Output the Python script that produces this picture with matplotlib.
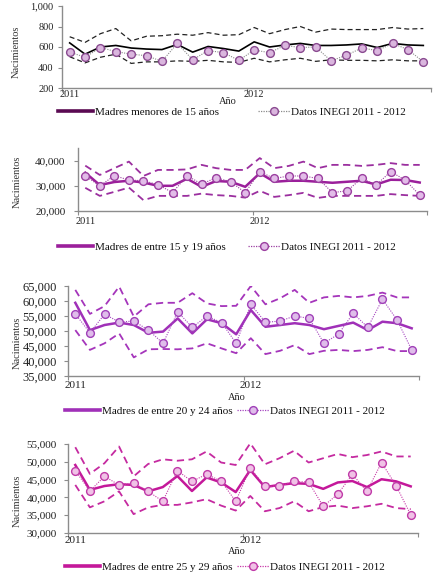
import numpy as np
import matplotlib
matplotlib.use('Agg')
import matplotlib.pyplot as plt
from matplotlib.lines import Line2D
from matplotlib.ticker import FixedLocator, FuncFormatter

plt.rcParams['font.family'] = ['Liberation Serif', 'DejaVu Serif']

# ---------------- data ----------------
months = np.arange(24) + 0.5          # Jan 2011 .. Dec 2012 (mid-month)
year_labels = ['2011', '2012']
year_pos = [0.5, 12.5]
year_edges = [0, 12, 24]
data_label = 'Datos INEGI 2011 - 2012'

p1_label = 'Madres menores de 15 años'
p1_model = [640, 530, 600, 615, 590, 580, 575, 625, 550, 605, 585, 560,
            650, 600, 620, 635, 615, 615, 620, 630, 595, 635, 620, 615]
p1_upper = [700, 645, 730, 780, 660, 705, 710, 725, 715, 740, 715, 720,
            790, 730, 770, 800, 745, 775, 770, 770, 770, 790, 775, 780]
p1_lower = [505, 445, 500, 530, 440, 455, 455, 465, 460, 470, 455, 450,
            490, 455, 475, 490, 460, 475, 470, 470, 465, 475, 465, 465]
p1_data = [550, 500, 595, 555, 530, 515, 460, 635, 475, 565, 545, 470,
           570, 545, 615, 595, 600, 465, 520, 590, 565, 635, 575, 455]

p2_label = 'Madres de entre 15 y 19 años'
p2_model = [35200, 30300, 31500, 32000, 31300, 30000, 30000, 32800, 29600, 31900, 31600, 29600,
            35000, 31600, 32000, 32000, 31600, 31200, 31600, 32000, 30500, 32400, 32300, 31300]
p2_upper = [38000, 34300, 37000, 39600, 33900, 36300, 36300, 36500, 38300, 37000, 36300, 36300,
            41000, 37000, 37900, 39600, 37000, 38300, 38300, 37900, 38300, 39000, 38300, 38300]
p2_lower = [29200, 26000, 27600, 29300, 24300, 26000, 26000, 26000, 26900, 26300, 26000, 25300,
            28000, 25600, 26300, 27200, 25200, 26000, 26000, 26000, 26000, 26700, 26300, 26000]
p2_data = [33900, 30000, 34000, 32300, 32000, 30500, 27300, 34000, 30700, 33200, 31600, 27300,
           35600, 32900, 33900, 33900, 32900, 27300, 28000, 32900, 30300, 35600, 32300, 26300]

p3_label = 'Madres de entre 20 y 24 años'
p3_model = [59400, 50300, 52000, 52800, 52000, 49400, 49800, 54200, 49200, 53900, 52600, 48900,
            57000, 51400, 52000, 52600, 52000, 50600, 51700, 52800, 50300, 53100, 52600, 50900]
p3_upper = [63700, 55700, 58300, 64800, 54800, 58900, 59400, 59400, 62600, 59200, 58300, 58400,
            65000, 58900, 60900, 63700, 59400, 61200, 61700, 61200, 61700, 62800, 61200, 61200]
p3_lower = [50300, 43700, 45900, 49200, 41200, 43900, 44000, 43900, 44200, 45900, 44200, 42600,
            47600, 42300, 43400, 45300, 42300, 43400, 43700, 43300, 43700, 44600, 43300, 43300]
p3_data = [55700, 49400, 55600, 53000, 53300, 50300, 45900, 56400, 51200, 55000, 52800, 45900,
           58900, 52900, 53300, 55000, 54200, 45900, 49000, 55900, 51200, 60600, 53700, 43700]

p4_label = 'Madres de entre 25 y 29 años'
p4_model = [49100, 42100, 43200, 43700, 43500, 41700, 42900, 46000, 41800, 45600, 44200, 41500,
            47700, 42900, 43500, 44000, 43800, 42400, 44200, 44600, 42900, 45100, 44500, 43100]
p4_upper = [54100, 46600, 49600, 54300, 45900, 49400, 50700, 50300, 50700, 52900, 49800, 49100,
            55200, 49300, 51000, 53100, 49800, 51000, 52200, 51300, 51900, 52900, 51500, 51500]
p4_lower = [43500, 37200, 38900, 41700, 35300, 37200, 37900, 37900, 38600, 39500, 37700, 36300,
            40400, 36100, 37000, 38900, 36100, 37300, 37700, 37000, 37500, 38200, 37000, 36700]
p4_data = [47500, 41800, 45900, 43500, 44000, 41700, 38900, 47500, 44500, 46500, 44600, 38900,
           48200, 43100, 43200, 44500, 44300, 37500, 40900, 46500, 41700, 49800, 43300, 35100]

# ---------------- layout / style ----------------
W, H = 441, 583
fig = plt.figure(figsize=(W / 100, H / 100), dpi=100)


def rect(left, right, top, bottom):
    return [left / W, 1 - bottom / H, (right - left) / W, (bottom - top) / H]


panels = [
    dict(label=p1_label, model=p1_model, upper=p1_upper, lower=p1_lower, data=p1_data,
         box=(62, 431, 6, 88), ylim=(200, 1000), yticks=np.arange(200, 1001, 200),
         main='#000000', band='#222222', dline='#8a8a8a', mfc='#dab6de', mec='#8a4a90',
         leg_color='#5a0a52', mlw=1.2, blw=0.9, tfs=7.5, xfs=7.5, ypad=3, xpad=1.5,
         ylab=(16, 52), ano=(228, 101), leg_y=112, leg_x=(58, 258)),
    dict(label=p2_label, model=p2_model, upper=p2_upper, lower=p2_lower, data=p2_data,
         box=(78, 427, 148, 211), ylim=(20000, 45000), yticks=[20000, 30000, 40000],
         main='#9b1f9b', band='#9b2f9f', dline='#9b3fa0', mfc='#e2bce8', mec='#9b3fa0',
         leg_color='#9b1f9b', mlw=1.8, blw=1.3, tfs=8, xfs=7.5, ypad=6, xpad=4,
         ylab=(17, 182), ano=None, leg_y=247, leg_x=(58, 248)),
    dict(label=p3_label, model=p3_model, upper=p3_upper, lower=p3_lower, data=p3_data,
         box=(68, 419, 286, 376), ylim=(35000, 65000), yticks=np.arange(35000, 65001, 5000),
         main='#a030b8', band='#a535bb', dline='#a545c0', mfc='#dfbdea', mec='#a040b8',
         leg_color='#a030b8', mlw=1.8, blw=1.3, tfs=9, xfs=8, ypad=5, xpad=3.5,
         ylab=(17, 343), ano=(237, 397), leg_y=411, leg_x=(65, 237)),
    dict(label=p4_label, model=p4_model, upper=p4_upper, lower=p4_lower, data=p4_data,
         box=(68, 418, 444, 533), ylim=(30000, 55000), yticks=np.arange(30000, 55001, 5000),
         main='#c4189a', band='#c52aa0', dline='#c83aa8', mfc='#f0c2e6', mec='#c03aa8',
         leg_color='#c4189a', mlw=1.8, blw=1.3, tfs=8, xfs=8, ypad=5, xpad=2.5,
         ylab=(17, 501), ano=(237, 552), leg_y=567, leg_x=(65, 237)),
]

spine_col = '#8c8c8c'
comma = FuncFormatter(lambda v, p: f'{int(round(v)):,}')
MS = 5.6

for P in panels:
    ax = fig.add_axes(rect(*P['box']))
    ax.plot(months, P['upper'], ls=(0, (4, 2.5)), color=P['band'], lw=P['blw'])
    ax.plot(months, P['lower'], ls=(0, (4, 2.5)), color=P['band'], lw=P['blw'])
    ax.plot(months, P['model'], color=P['main'], lw=P['mlw'])
    ax.plot(months, P['data'], ls=(0, (1, 1.2)), color=P['dline'], lw=0.8,
            marker='o', ms=MS, mfc=P['mfc'], mec=P['mec'], mew=1.0)

    ax.set_xlim(0, 24)
    ax.set_ylim(*P['ylim'])
    ax.yaxis.set_major_locator(FixedLocator(P['yticks']))
    ax.yaxis.set_major_formatter(comma)
    ax.xaxis.set_major_locator(FixedLocator(year_edges))
    ax.xaxis.set_major_formatter(FuncFormatter(lambda v, p: ''))
    ax.xaxis.set_minor_locator(FixedLocator(year_pos))
    ax.xaxis.set_minor_formatter(FuncFormatter(lambda v, p: year_labels[p] if p < len(year_labels) else ''))

    for s in ['top', 'right']:
        ax.spines[s].set_visible(False)
    for s in ['left', 'bottom']:
        ax.spines[s].set_color(spine_col)
        ax.spines[s].set_linewidth(1.0)
    ax.tick_params(axis='y', which='major', direction='out', length=3, width=0.8,
                   color=spine_col, labelsize=P['tfs'], pad=P['ypad'], labelcolor='#222222')
    ax.tick_params(axis='x', which='major', direction='out', length=3, width=0.8,
                   color=spine_col)
    ax.tick_params(axis='x', which='minor', length=0, labelsize=P['xfs'], pad=P['xpad'],
                   labelcolor='#222222')

    fig.text(P['ylab'][0] / W, 1 - P['ylab'][1] / H, 'Nacimientos', rotation=90,
             ha='center', va='center', fontsize=7.5, color='#333333')
    if P['ano'] is not None:
        fig.text(P['ano'][0] / W, 1 - P['ano'][1] / H, 'Año', ha='center', va='center',
                 fontsize=7.5, color='#222222')

    h1 = Line2D([], [], color=P['leg_color'], lw=2.6)
    h2 = Line2D([], [], ls=(0, (1, 1)), color=P['dline'], lw=0.9, marker='o', ms=MS,
                mfc=P['mfc'], mec=P['mec'], mew=1.0)
    for h, lab, x0, hl in [(h1, P['label'], P['leg_x'][0], 3.15), (h2, data_label, P['leg_x'][1], 2.85)]:
        fig.legend(handles=[h], labels=[lab], loc='center left',
                   bbox_to_anchor=(x0 / W, 1 - P['leg_y'] / H), frameon=False,
                   borderpad=0, borderaxespad=0, handlelength=hl, handletextpad=0.15,
                   fontsize=8, labelcolor='#111111')

fig.savefig('out.png', dpi=100)
